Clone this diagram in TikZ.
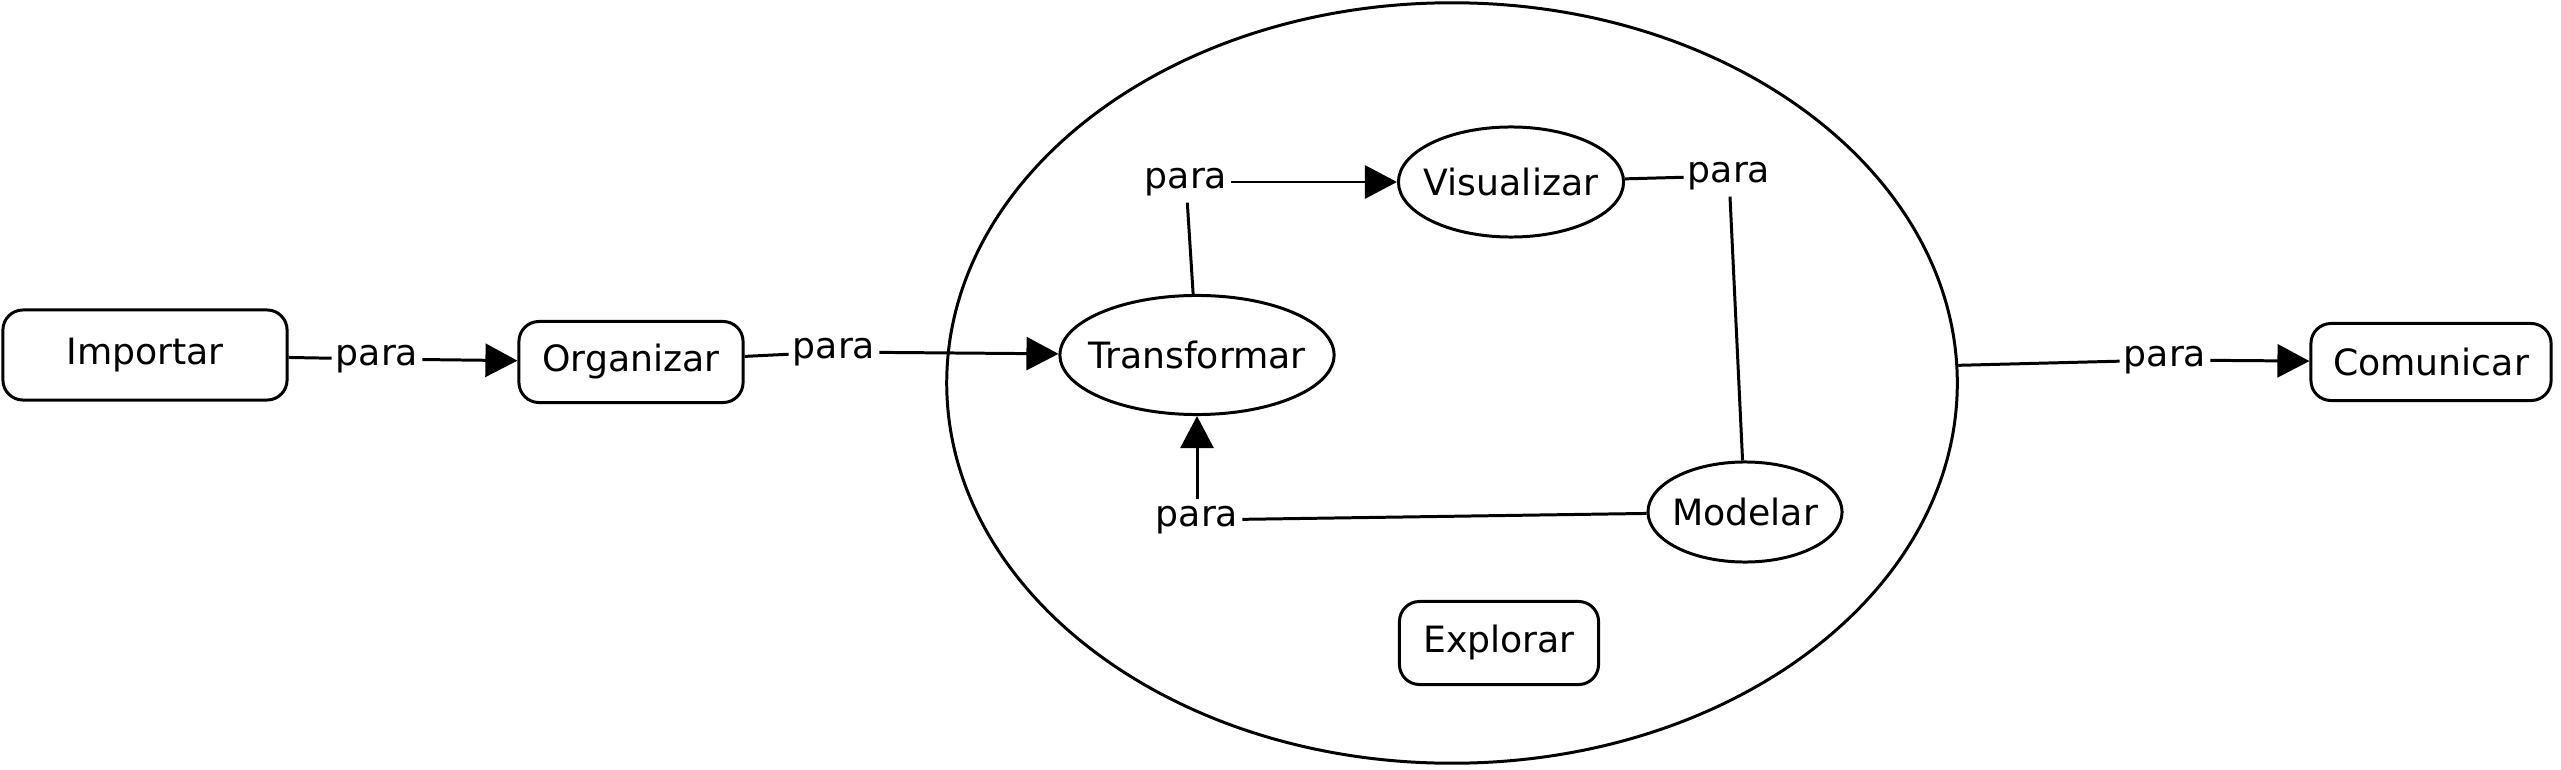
\documentclass[tikz,border=0pt]{standalone}
\usepackage{fontspec}
\setmainfont{DejaVu Sans}
\usetikzlibrary{shapes.geometric,arrows.meta}

\begin{document}
\begin{tikzpicture}[x=0.01cm,y=-0.01cm,line width=0.85pt,
		font=\fontsize{10.3}{12}\selectfont,
		caja/.style={draw,rounded corners=0.2cm},
		elipse/.style={draw,ellipse,inner ysep=0pt},
		enlace/.style={inner xsep=0.8pt,inner ysep=1.5pt},
		flecha/.style={-{Triangle[length=0.32cm,width=0.33cm]}}]
		\useasboundingbox (0,0) rectangle (2561,770);
		\node[elipse,inner sep=0pt,minimum width=10.1cm,minimum height=7.6cm] (ciclo) at (1452,383) {};
		\node[caja,minimum width=2.84cm,minimum height=0.9cm] (importar) at (145,355) {Importar};
		\node[caja,minimum width=2.24cm,minimum height=0.81cm] (organizar) at (631,362) {Organizar};
		\node[elipse,inner xsep=-4.3pt,minimum width=2.74cm,minimum height=1.19cm] (transformar) at (1197,355) {Transformar};
		\node[elipse,inner xsep=-2.4pt,minimum width=2.25cm,minimum height=1.1cm] (visualizar) at (1511,182) {Visualizar};
		\node[elipse,inner xsep=-1.3pt,minimum width=1.94cm,minimum height=1.0cm] (modelar) at (1745,512) {Modelar};
		\node[caja,minimum width=1.99cm,minimum height=0.83cm] (explorar) at (1499,643) {Explorar};
		\node[caja,minimum width=2.4cm,minimum height=0.77cm] (comunicar) at (2431,362) {Comunicar};
		\node[enlace] (para1) at (377,359) {para};
		\node[enlace] (para2) at (834,352) {para};
		\node[enlace] (para3) at (1186,182) {para};
		\node[enlace] (para4) at (1729,176) {para};
		\node[enlace] (para5) at (1197,520) {para};
		\node[enlace] (para6) at (2165,360) {para};
		\draw (importar) -- (para1);
		\draw[flecha] (para1) -- (organizar);
		\draw (organizar) -- (para2);
		\draw[flecha] (para2) -- (transformar);
		\draw (transformar) -- (para3);
		\draw[flecha] (para3) -- (visualizar);
		\draw (visualizar) -- (para4);
		\draw (para4) -- (modelar);
		\draw (modelar) -- (para5);
		\draw[flecha] (para5) -- (transformar);
		\draw (ciclo.2) -- (para6);
		\draw[flecha] (para6) -- (comunicar);
	\end{tikzpicture}
\end{document}
